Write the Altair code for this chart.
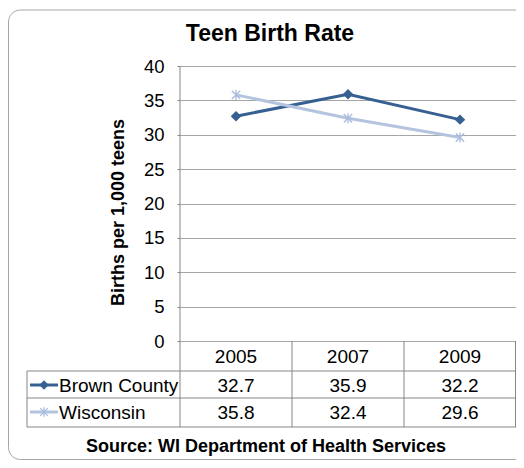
import altair as alt
import pandas as pd

years = ["2005", "2007", "2009"]
brown = [32.7, 35.9, 32.2]
wisconsin = [35.8, 32.4, 29.6]
series_names = ["Brown County", "Wisconsin"]
y_ticks = [0, 5, 10, 15, 20, 25, 30, 35, 40]
title_text = "Teen Birth Rate"
y_title = "Births per 1,000 teens"
source_text = "Source:  WI Department of Health Services"

DARK = "#376092"
LIGHT = "#B4C4DF"
ASTER_C = "#A9BCDD"
GRID = "#A6A6A6"
AXIS = "#868686"
FONT = "Liberation Sans"
ASTER = "M-1,-1L1,1M-1,1L1,-1M0,-1.2L0,1.2"

W, H = 336, 275

df = pd.DataFrame({
    "year": years * 2,
    "value": brown + wisconsin,
    "series": [series_names[0]] * 3 + [series_names[1]] * 3,
})
one = pd.DataFrame({"k": [0]})

xscale = alt.Scale(type="point", padding=0.5, domain=years)
xenc = alt.X("year:N", scale=xscale, axis=None)
yaxis = alt.Axis(
    values=y_ticks, grid=True, gridColor=GRID, gridWidth=1,
    domain=False, tickColor=AXIS, tickSize=3, labelOverlap=False,
    labelFont=FONT, labelFontSize=18.5, labelColor="#000000", labelPadding=13,
    title=y_title, titleFont=FONT, titleFontSize=18, titleFontWeight="bold",
    titleColor="#000000", titleAngle=270, titleX=-62, titleY=146,
    titleAlign="center", titleBaseline="middle",
)
yenc = alt.Y("value:Q", scale=alt.Scale(domain=[0, 40]), axis=yaxis)
color = alt.Color("series:N", scale=alt.Scale(domain=series_names, range=[DARK, LIGHT]), legend=None)

frame = alt.Chart(one).mark_rect(fillOpacity=0, stroke="#A6A6A6", strokeWidth=1, cornerRadius=12).encode(
    x=alt.value(-171.5), x2=alt.value(400), y=alt.value(-56), y2=alt.value(393.5)
)

lines = alt.Chart(df).mark_line(strokeWidth=3).encode(x=xenc, y=yenc, color=color)
pts_b = alt.Chart(df).transform_filter(alt.datum.series == series_names[0]).mark_point(
    shape="diamond", filled=True, size=110, color=DARK, opacity=1
).encode(x=xenc, y=yenc)
pts_w = alt.Chart(df).transform_filter(alt.datum.series == series_names[1]).mark_point(
    shape=ASTER, filled=False, size=70, color=ASTER_C, strokeWidth=1.3, opacity=1
).encode(x=xenc, y=yenc)


def hrule(y, x1, x2):
    return alt.Chart(one).mark_rule(color=AXIS, strokeWidth=1).encode(
        x=alt.value(x1), x2=alt.value(x2), y=alt.value(y)
    )


def vrule(x, y1, y2):
    return alt.Chart(one).mark_rule(color=AXIS, strokeWidth=1).encode(
        x=alt.value(x), y=alt.value(y1), y2=alt.value(y2)
    )


ROW1, ROW2, BOT = 305, 332, 361
step = W / len(years)
rules = [
    vrule(0, 0, BOT),
    vrule(step, H, BOT), vrule(2 * step, H, BOT), vrule(W - 0.5, H, BOT),
    vrule(-153, ROW1, BOT),
    hrule(ROW1, -153, W), hrule(ROW2, -153, W), hrule(BOT, -153, W),
]

header = alt.Chart(pd.DataFrame({"year": years})).mark_text(
    font=FONT, fontSize=19, color="#000000", baseline="middle"
).encode(x=xenc, y=alt.value(291), text="year:N")

row_y = {series_names[0]: 320, series_names[1]: 347}
row_texts = []
for name in series_names:
    row_texts.append(
        alt.Chart(df).transform_filter(alt.datum.series == name).mark_text(
            font=FONT, fontSize=19, color="#000000", baseline="middle"
        ).encode(x=xenc, y=alt.value(row_y[name]), text=alt.Text("value:Q", format=".1f"))
    )

keys = []
for name, col in zip(series_names, [DARK, LIGHT]):
    yy = row_y[name] - 1
    keys.append(alt.Chart(one).mark_rule(color=col, strokeWidth=3).encode(
        x=alt.value(-150), x2=alt.value(-122), y=alt.value(yy)))
    keys.append(alt.Chart(pd.DataFrame({"series": [name]})).mark_text(
        font=FONT, fontSize=19, color="#000000", align="left", baseline="middle"
    ).encode(x=alt.value(-121), y=alt.value(row_y[name]), text="series:N"))
keys.append(alt.Chart(one).mark_point(shape="diamond", filled=True, size=90, color=DARK, opacity=1).encode(
    x=alt.value(-136), y=alt.value(row_y[series_names[0]] - 1)))
keys.append(alt.Chart(one).mark_point(shape=ASTER, filled=False, size=60, color=ASTER_C, strokeWidth=1.3, opacity=1).encode(
    x=alt.value(-136), y=alt.value(row_y[series_names[1]] - 1)))

title = alt.Chart(pd.DataFrame({"t": [title_text]})).mark_text(
    font=FONT, fontSize=23, fontWeight="bold", color="#000000", align="center", baseline="middle"
).encode(x=alt.value(90), y=alt.value(-32), text="t:N")

source = alt.Chart(pd.DataFrame({"t": [source_text]})).mark_text(
    font=FONT, fontSize=18, fontWeight="bold", color="#000000", align="center", baseline="middle"
).encode(x=alt.value(86), y=alt.value(381), text="t:N")

chart = alt.layer(
    frame, lines, *rules, pts_b, pts_w, header, *row_texts, *keys, title, source
).properties(
    width=W, height=H,
    autosize=alt.AutoSizeParams(type="none"),
    padding={"left": 172, "top": 58, "right": 0, "bottom": 119},
    background="#FFFFFF",
).configure_view(stroke=None)

chart.save("out.html", embed_options={"renderer": "svg", "actions": False})
